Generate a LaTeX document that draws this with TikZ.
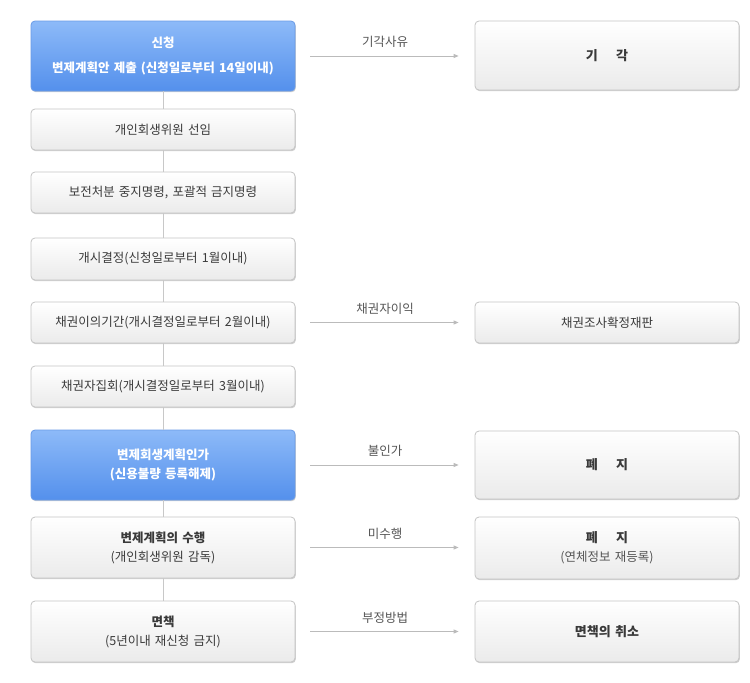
\documentclass[tikz,border=0pt]{standalone}
\usepackage{fontspec}
\newfontfamily\kr{Noto Sans CJK KR}
\usetikzlibrary{shadows,arrows.meta}
\definecolor{txt}{HTML}{3A3A3A}
\definecolor{lbl}{HTML}{555555}
\definecolor{bordr}{HTML}{C4C4C4}
\definecolor{conn}{HTML}{C8C8C8}
\definecolor{arr}{HTML}{BBBBBB}
\definecolor{btop}{HTML}{8DBAF8}
\definecolor{bbot}{HTML}{5490EC}
\definecolor{bbord}{HTML}{6A9BE6}
\tikzset{
  box/.style={draw=bordr, line width=0.8pt, rounded corners=4pt,
    top color=white, bottom color=black!8, minimum width=264pt,
    text width=256pt, align=center, inner sep=0pt, text=txt,
    font=\kr\fontsize{12.5}{19}\selectfont,
    drop shadow={shadow xshift=0.8pt, shadow yshift=-1.2pt, opacity=0.3, fill=black!60}},
  bluebox/.style={box, draw=bbord, top color=btop, bottom color=bbot, text=white,
    font=\kr\bfseries\fontsize{12.5}{19}\selectfont},
  bigbold/.style={font=\kr\bfseries\fontsize{13}{19}\selectfont},
  conline/.style={draw=conn, line width=0.8pt},
  arrline/.style={draw=arr, line width=0.8pt, -{Triangle[length=5pt,width=4pt]},
    shorten <=15pt, shorten >=16pt},
  arrlabel/.style={font=\kr\fontsize{12.5}{14}\selectfont, text=lbl, inner sep=0pt},
}
\begin{document}
\begin{tikzpicture}[x=1pt,y=-1pt]
\useasboundingbox[fill=white] (0,0) rectangle (750,683);
% left column
\node[bluebox, minimum height=70pt, font=\kr\bfseries\fontsize{12.5}{25}\selectfont] (L1) at (163,56) {신청\\변제계획안 제출 (신청일로부터 14일이내)};
\node[box, minimum height=41pt] (L2) at (163,129.5) {개인회생위원 선임};
\node[box, minimum height=41pt] (L3) at (163,192.5) {보전처분 중지명령, 포괄적 금지명령};
\node[box, minimum height=42pt] (L4) at (163,259) {개시결정(신청일로부터 1월이내)};
\node[box, minimum height=41pt] (L5) at (163,322.5) {채권이의기간(개시결정일로부터 2월이내)};
\node[box, minimum height=41pt] (L6) at (163,386.5) {채권자집회(개시결정일로부터 3월이내)};
\node[bluebox, minimum height=70pt] (L7) at (163,465) {변제회생계획인가\\(신용불량 등록해제)};
\node[box, minimum height=61pt] (L8) at (163,547.5) {{\bfseries 변제계획의 수행}\\(개인회생위원 감독)};
\node[box, minimum height=61pt] (L9) at (163,631.5) {{\bfseries 면책}\\(5년이내 재신청 금지)};
% right column
\node[box, bigbold, minimum height=69pt] (R1) at (607,55.5) {기\hspace{1.4em}각};
\node[box, minimum height=41pt] (R2) at (607,322.5) {채권조사확정재판};
\node[box, bigbold, minimum height=68pt] (R3) at (607,465) {폐\hspace{1.4em}지};
\node[box, minimum height=62pt] (R4) at (607,548) {{\bfseries\fontsize{13}{19}\selectfont 폐\hspace{1.4em}지}\\{\color{lbl}(연체정보 재등록)}};
\node[box, bigbold, minimum height=61pt] (R5) at (607,631.5) {면책의 취소};
% vertical connectors
\foreach \a/\b in {L1/L2,L2/L3,L3/L4,L4/L5,L5/L6,L6/L7,L7/L8,L8/L9}
  \draw[conline] (\a.south) -- (\b.north);
% arrows
\draw[arrline] (L1.east) -- node[arrlabel, above=8pt] (A1) {기각사유} (L1.east -| R1.west);
\draw[arrline] (L5.east) -- node[arrlabel, above=8pt] (A2) {채권자이익} (L5.east -| R2.west);
\draw[arrline] (L7.east) -- node[arrlabel, above=8pt] (A3) {불인가} (L7.east -| R3.west);
\draw[arrline] (L8.east) -- node[arrlabel, above=8pt] (A4) {미수행} (L8.east -| R4.west);
\draw[arrline] (L9.east) -- node[arrlabel, above=8pt] (A5) {부정방법} (L9.east -| R5.west);
\end{tikzpicture}
\end{document}
